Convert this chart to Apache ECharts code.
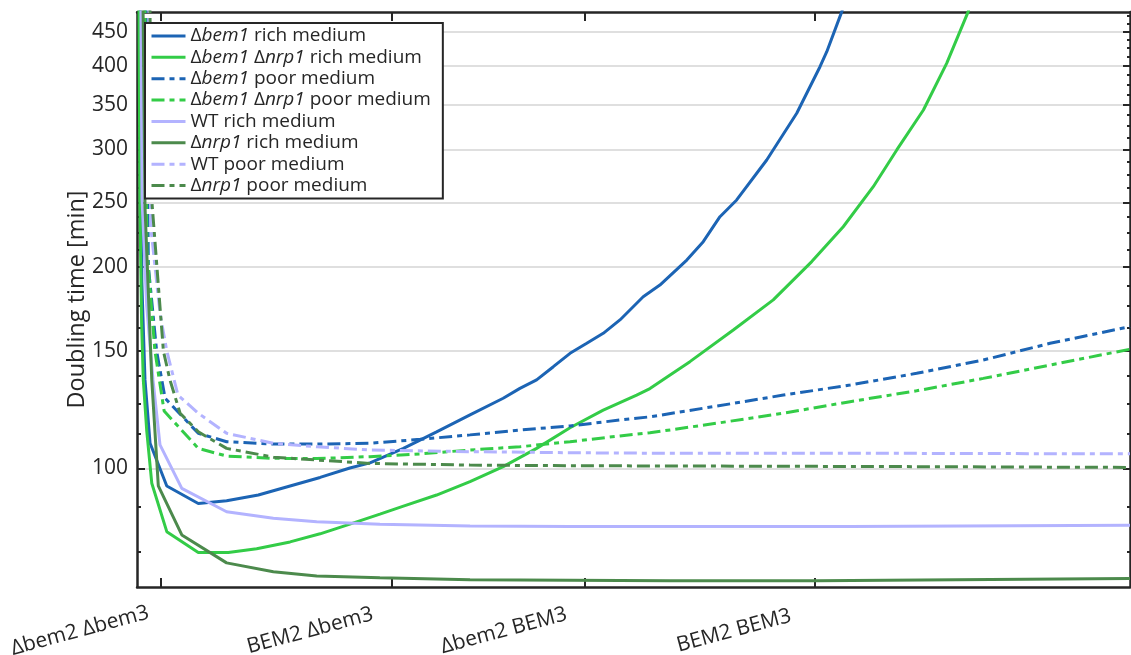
<!DOCTYPE html>
<html><head><meta charset="utf-8">
<script src="https://cdn.jsdelivr.net/npm/echarts@6/dist/echarts.min.js"></script>
<style>html,body{margin:0;padding:0;background:#fff}#c{width:1131px;height:655px}</style>
</head><body><div id="c"></div>
<script>
// ---- ticks ----
const xTickValues = [1, 10.5, 18.5, 28];
const xTickLabels = ['Δbem2 Δbem3', 'BEM2 Δbem3', 'Δbem2 BEM3', 'BEM2 BEM3'];
const yTickValues = [100, 150, 200, 250, 300, 350, 400, 450];
const yMinorTickValues = [75, 87.5, 112.5, 125, 137.5, 162.5, 175, 187.5, 212.5, 225, 237.5, 262.5, 275, 287.5,
  312.5, 325, 337.5, 362.5, 375, 387.5, 412.5, 425, 437.5, 462.5, 475];
const yRange = [66.44, 481.5];
const xRange = [0, 41];

// ---- series names ----
const seriesNames = ['Δbem1 rich medium', 'Δbem1 Δnrp1 rich medium', 'Δbem1 poor medium', 'Δbem1 Δnrp1 poor medium',
  'WT rich medium', 'Δnrp1 rich medium', 'WT poor medium', 'Δnrp1 poor medium'];

// ---- data (doubling time in min) ----
const bem1RichX = [0.04, 0.2, 0.33, 0.54, 1.23, 2.53, 3.7, 5.01, 6.32, 7.56, 8.79, 9.62, 11.0, 12.37, 13.75, 15.12, 15.81, 16.5, 17.19, 17.88, 18.57, 19.25, 19.94, 20.9, 21.59, 22.7, 23.38, 24.07, 24.76, 26.0, 27.24, 28.2, 28.48, 29.1, 29.3];
const bem1RichY = [1500, 190, 135.6, 109.0, 94.1, 88.6, 89.4, 91.2, 94.1, 96.9, 100.1, 101.9, 107.1, 113.4, 120.2, 127.3, 131.7, 135.6, 141.9, 148.6, 153.8, 159.2, 166.7, 180.6, 188.0, 204.9, 218.3, 237.9, 252.0, 289.2, 339.7, 398.8, 420.0, 482.1, 510];

const bem1Nrp1RichX = [0.02, 0.12, 0.19, 0.26, 0.4, 0.61, 1.23, 2.53, 3.77, 4.94, 6.32, 7.56, 8.79, 10.03, 11.0, 12.37, 13.75, 15.12, 16.5, 17.88, 19.25, 20.63, 21.18, 22.01, 22.83, 24.62, 26.27, 27.86, 29.16, 30.4, 31.37, 32.47, 33.43, 34.32, 34.43];
const bem1Nrp1RichY = [1500, 250, 165, 135.6, 114, 95.0, 80.4, 74.8, 74.8, 75.8, 77.6, 79.8, 82.5, 85.4, 87.8, 91.2, 95.5, 100.6, 107.1, 115.0, 122.2, 128.7, 131.6, 137.9, 144.4, 161.0, 178.6, 203.8, 229.8, 263.8, 299.4, 343.6, 403.5, 482.1, 502];

const bem1PoorX = [0.25, 0.47, 0.81, 1.16, 2.53, 3.7, 5.63, 7.42, 9.62, 11.69, 13.75, 15.81, 17.88, 19.94, 21.18, 23.94, 26.69, 29.44, 32.19, 34.94, 37.7, 41];
const bem1PoorY = [1500, 200.3, 149.8, 127.3, 112.8, 109.6, 108.7, 108.7, 109.0, 110.5, 112.2, 114.1, 115.7, 118.1, 119.4, 123.9, 128.7, 133.2, 138.7, 145.2, 153.8, 162.9];

const bem1Nrp1PoorX = [0.21, 0.41, 0.74, 1.12, 2.53, 3.7, 5.63, 7.42, 9.62, 11.69, 13.75, 15.81, 17.88, 19.94, 21.18, 23.94, 26.69, 29.44, 32.19, 34.94, 37.7, 41];
const bem1Nrp1PoorY = [1500, 212, 149.8, 121.8, 107.1, 104.3, 103.5, 103.4, 104.1, 105.1, 106.5, 107.7, 109.6, 111.8, 113.0, 116.8, 120.9, 125.8, 130.6, 136.3, 142.7, 150.7];

const wtRichX = [0.08, 0.21, 0.4, 0.66, 0.95, 1.85, 3.7, 5.63, 7.42, 10.03, 13.75, 17.88, 29.44, 41];
const wtRichY = [1500, 252, 175, 135.6, 108.4, 93.3, 86.1, 84.2, 83.2, 82.5, 82.0, 81.8, 81.85, 82.2];

const nrp1RichX = [0.12, 0.33, 0.61, 0.88, 1.85, 3.7, 5.63, 7.42, 10.03, 13.75, 22.01, 28.06, 41];
const nrp1RichY = [1500, 246, 135.6, 94.1, 79.5, 72.2, 70.0, 69.0, 68.6, 68.1, 67.9, 67.9, 68.4];

const wtPoorX = [0.37, 0.58, 0.95, 1.23, 1.69, 2.53, 3.7, 5.63, 7.42, 9.62, 13.75, 17.88, 22.01, 31.09, 41];
const wtPoorY = [1500, 227.3, 170.6, 149.8, 128.7, 120.9, 112.8, 109.0, 107.7, 106.5, 105.9, 105.5, 105.3, 105.3, 105.1];

const nrp1PoorX = [0.41, 0.61, 1.09, 1.36, 1.78, 2.53, 3.7, 5.63, 7.42, 9.62, 13.75, 17.88, 22.01, 31.09, 41];
const nrp1PoorY = [1500, 252, 149.8, 135.6, 120.9, 113.4, 107.1, 103.9, 102.9, 101.7, 101.1, 100.9, 100.8, 100.6, 100.3];

// ---- styles ----
const BLUE = '#1c64b4', GREEN = '#33cc47', LAV = '#b3b3ff', DGREEN = '#4c8a4c';
const INK = '#262626';
const FONT = 'Open Sans';
const DASH = [13, 5, 5, 5];

const seriesData = [
  [bem1RichX, bem1RichY, BLUE, false],
  [bem1Nrp1RichX, bem1Nrp1RichY, GREEN, false],
  [bem1PoorX, bem1PoorY, BLUE, true],
  [bem1Nrp1PoorX, bem1Nrp1PoorY, GREEN, true],
  [wtRichX, wtRichY, LAV, false],
  [nrp1RichX, nrp1RichY, DGREEN, false],
  [wtPoorX, wtPoorY, LAV, true],
  [nrp1PoorX, nrp1PoorY, DGREEN, true]
];

const lg = Math.log10;
const yMin = lg(yRange[0]), yMax = lg(yRange[1]);

const series = seriesData.map((s, k) => ({
  name: seriesNames[k],
  type: 'line',
  xAxisIndex: 0, yAxisIndex: 0,
  data: s[0].map((x, i) => [x, lg(s[1][i])]),
  symbol: 'none', showSymbol: false,
  clip: true,
  color: s[2],
  itemStyle: { color: s[2] },
  lineStyle: { color: s[2], width: 3, type: s[3] ? DASH : 'solid', cap: 'butt' },
  animation: false
}));

function yAxisDef(pos, major) {
  const vals = (major ? yTickValues : yMinorTickValues).map(lg);
  return {
    type: 'value', position: pos, min: yMin, max: yMax,
    axisLine: { show: major, onZero: false, lineStyle: { color: INK, width: 2.5 } },
    axisTick: { show: true, inside: true, length: major ? (pos === 'left' ? 8 : 7) : (pos === 'left' ? 4 : 3),
      customValues: vals, lineStyle: { color: INK, width: 2 } },
    axisLabel: { show: false },
    splitLine: { show: false }
  };
}

const yMain = yAxisDef('left', true);
yMain.axisLabel = {
  show: true, customValues: yTickValues.map(lg), margin: 9,
  formatter: v => String(Math.round(Math.pow(10, v))),
  fontSize: 21, color: INK, fontFamily: FONT
};
yMain.splitLine = { show: true, lineStyle: { color: '#dfdfdf', width: 2 } };
yMain.name = 'Doubling time [min]';
yMain.nameLocation = 'middle';
yMain.nameGap = 48;
yMain.nameMoveOverlap = false;
yMain.nameTextStyle = { fontSize: 23.5, color: INK, fontFamily: FONT };

function xLabelFor(v) {
  let best = 0;
  xTickValues.forEach((t, i) => { if (Math.abs(t - v) < Math.abs(xTickValues[best] - v)) best = i; });
  return xTickLabels[best];
}

const option = {
  backgroundColor: '#fff',
  animation: false,
  grid: { left: 137, right: 1, top: 12, bottom: 68, containLabel: false, outerBoundsMode: 'none' },
  legend: {
    orient: 'vertical', left: 145, top: 23,
    padding: [3, 12, 3, 5],
    itemWidth: 34, itemHeight: 14, itemGap: 1.36,
    backgroundColor: '#fff', borderColor: INK, borderWidth: 2, borderRadius: 0,
    itemStyle: { opacity: 0, borderWidth: 0 },
    lineStyle: { width: 3 },
    data: seriesNames,
    formatter: n => n.replace(/(bem1|nrp1)/g, '{i|$1}'),
    textStyle: {
      fontSize: 19, fontFamily: FONT, color: INK, lineHeight: 20,
      rich: { i: { fontSize: 19, fontFamily: FONT, color: INK, fontStyle: 'italic', lineHeight: 20 } }
    }
  },
  xAxis: [
    {
      type: 'value', position: 'bottom', min: xRange[0], max: xRange[1],
      axisLine: { show: true, onZero: false, lineStyle: { color: INK, width: 2.5 } },
      axisTick: { show: true, inside: true, length: 9, customValues: xTickValues, lineStyle: { color: INK, width: 2 } },
      axisLabel: {
        show: true, customValues: xTickValues, formatter: v => xLabelFor(v),
        rotate: 15, align: 'center', verticalAlign: 'middle', padding: [0, 168, 0, 0], margin: 22,
        fontSize: 21, color: INK, fontFamily: FONT
      },
      splitLine: { show: false }
    },
    {
      type: 'value', position: 'top', min: xRange[0], max: xRange[1],
      axisLine: { show: true, onZero: false, lineStyle: { color: INK, width: 2.5 } },
      axisTick: { show: true, inside: true, length: 9, customValues: xTickValues, lineStyle: { color: INK, width: 2 } },
      axisLabel: { show: false },
      splitLine: { show: false }
    }
  ],
  yAxis: [yMain, yAxisDef('left', false), yAxisDef('right', true), yAxisDef('right', false)],
  series: series
};

const chart = echarts.init(document.getElementById('c'), null, { renderer: 'canvas' });
chart.setOption(option);
</script>
</body></html>
